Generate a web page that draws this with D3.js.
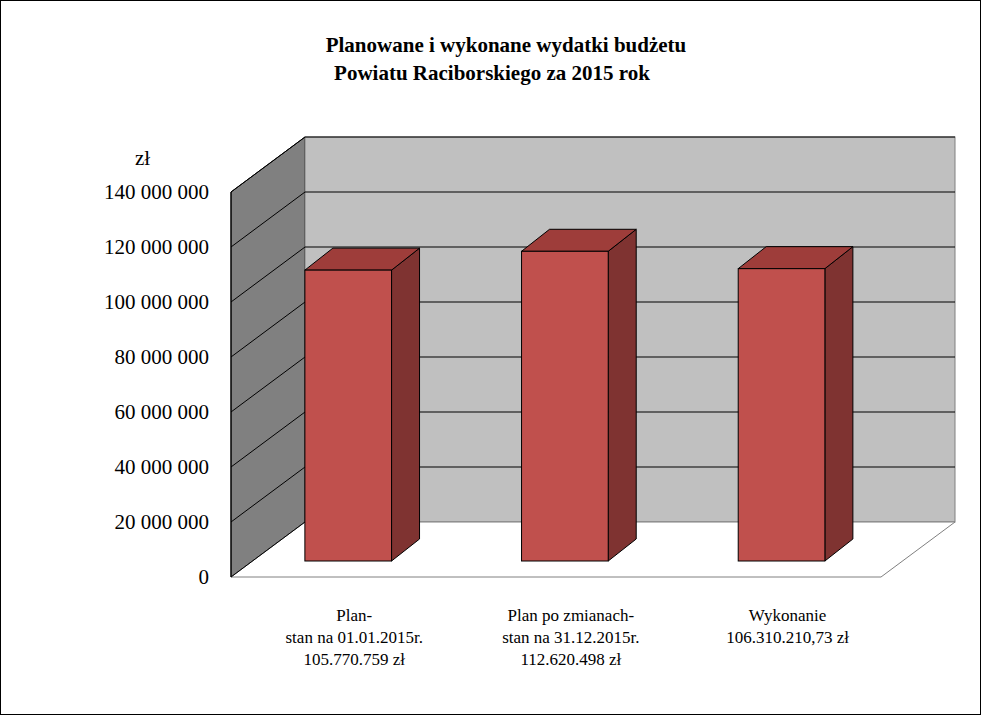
<!DOCTYPE html><html><head><meta charset="utf-8"><script src="https://d3js.org/d3.v7.min.js"></script>
<style>body{margin:0;background:#fff}svg{font-family:"Liberation Serif","Times New Roman",serif}</style></head><body>
<script>
const categories=[["Plan-","stan na 01.01.2015r.","105.770.759 zł"],["Plan po zmianach-","stan na 31.12.2015r.","112.620.498 zł"],["Wykonanie","106.310.210,73 zł"]];
const values=[105770759,112620498,106310210.73];
const ticks=[0,20000000,40000000,60000000,80000000,100000000,120000000,140000000];
const W=981,H=715;
const svg=d3.select("body").append("svg").attr("width",W).attr("height",H);
svg.append("rect").attr("x",0.5).attr("y",0.5).attr("width",W-1).attr("height",H-1).attr("fill","#fff").attr("stroke","#000");
const x0=231,x1=881,DX=74,DY=-55;
const y=d3.scaleLinear().domain([0,140000000]).range([577,192]);
// walls
svg.append("polygon").attr("points",`${x0},${y(0)} ${x0+DX},${y(0)+DY} ${x0+DX},${y(140e6)+DY} ${x0},${y(140e6)}`).attr("fill","#808080").attr("stroke","#000");
svg.append("rect").attr("x",x0+DX).attr("y",y(140e6)+DY).attr("width",x1-x0).attr("height",y(0)-y(140e6)).attr("fill","#C0C0C0").attr("stroke","#808080");
svg.append("polygon").attr("points",`${x0},${y(0)} ${x1},${y(0)} ${x1+DX},${y(0)+DY} ${x0+DX},${y(0)+DY}`).attr("fill","#fff").attr("stroke","#808080");
ticks.forEach(t=>{
 svg.append("line").attr("x1",x0).attr("y1",y(t)).attr("x2",x0+DX).attr("y2",y(t)+DY).attr("stroke","#000");
 if(t>0) svg.append("line").attr("x1",x0+DX).attr("y1",y(t)+DY).attr("x2",x1+DX).attr("y2",y(t)+DY).attr("stroke","#000");
 svg.append("text").attr("x",x0-22).attr("y",y(t)+7).attr("text-anchor","end").attr("font-size",21).text(d3.format(",")(t).replace(/,/g," "));
});
svg.append("line").attr("x1",x0).attr("y1",y(0)).attr("x2",x0).attr("y2",y(140e6)).attr("stroke","#000");
svg.append("text").attr("x",135).attr("y",165).attr("font-size",21).text("zł");
// bars
const xb=d3.scaleBand().domain(d3.range(3)).range([x0,x1]).paddingInner(0.6).paddingOuter(0.3);
const bw=xb.bandwidth(),ddx=28,ddy=-22,off=16;
values.forEach((v,i)=>{
 const bx=xb(i)+DX*0.12,by0=y(0)-off,by1=y(v)-off;
 svg.append("polygon").attr("points",`${bx+bw},${by0} ${bx+bw+ddx},${by0+ddy} ${bx+bw+ddx},${by1+ddy} ${bx+bw},${by1}`).attr("fill","#7F3331").attr("stroke","#000");
 svg.append("polygon").attr("points",`${bx},${by1} ${bx+ddx},${by1+ddy} ${bx+bw+ddx},${by1+ddy} ${bx+bw},${by1}`).attr("fill","#9E3D3A").attr("stroke","#000");
 svg.append("rect").attr("x",bx).attr("y",by1).attr("width",bw).attr("height",by0-by1).attr("fill","#C0504D").attr("stroke","#000");
 const t=svg.append("text").attr("text-anchor","middle").attr("font-size",17);
 categories[i].forEach((l,j)=>t.append("tspan").attr("x",bx+bw/2+ddx/2-8).attr("y",621+j*22).text(l));
});
const tt=svg.append("text").attr("text-anchor","middle").attr("font-size",21).attr("font-weight","bold");
tt.append("tspan").attr("x",506).attr("y",52).text("Planowane i wykonane wydatki budżetu");
tt.append("tspan").attr("x",492).attr("y",80).text("Powiatu Raciborskiego za 2015 rok");
</script></body></html>
